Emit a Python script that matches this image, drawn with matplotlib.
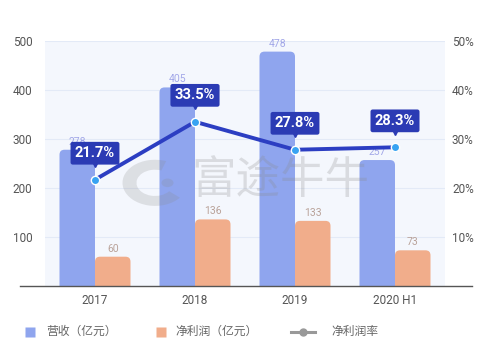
import numpy as np
import matplotlib
matplotlib.use("Agg")
import matplotlib.pyplot as plt
from matplotlib.patches import FancyBboxPatch, Wedge, Circle
from matplotlib.lines import Line2D
from matplotlib.transforms import offset_copy

plt.rcParams['font.family'] = ['Roboto', 'Noto Sans CJK SC', 'DejaVu Sans']

categories = ["2017", "2018", "2019", "2020 H1"]
revenue = [278, 405, 478, 257]
profit = [60, 136, 133, 73]
margin = [21.7, 33.5, 27.8, 28.3]
legend_labels = ["营收（亿元）", "净利润（亿元）", "净利润率"]

BLUE = "#8fa5ee"
ORANGE = "#f1ad8b"
LINE = "#2c3ec2"
DOT = "#38a3f2"
BOX = "#2b3bb4"

fig = plt.figure(figsize=(5.0, 3.55), dpi=100)
ax = fig.add_axes([0.09, 0.194, 0.80, 0.691])
ax.set_facecolor("#f4f7fd")
ax2 = ax.twinx()

x = np.arange(len(categories))
w = 0.355

ax.set_xlim(-0.5, 3.5)
ax.set_ylim(0, 500)
ax2.set_ylim(0, 50)

# px -> data aspect for rounded bar tops
ax_w_px = 0.80 * 500
ax_h_px = 0.691 * 355
aspect = (500 / ax_h_px) / (4.0 / ax_w_px)
r = 0.05


def rounded_bar(xc, h, color):
    p = FancyBboxPatch((xc - w / 2 + r, -30), w - 2 * r, h + 30 - r * aspect,
                       boxstyle=f"round,pad={r},rounding_size={r}",
                       mutation_aspect=aspect, fc=color, ec="none", zorder=2)
    ax.add_patch(p)


for i in range(len(categories)):
    rounded_bar(x[i] - w / 2, revenue[i], BLUE)
    rounded_bar(x[i] + w / 2, profit[i], ORANGE)
    ax.text(x[i] - w / 2, revenue[i] + 6, f"{revenue[i]}", ha="center",
            va="bottom", fontsize=7.5, color="#a3a8e8", zorder=3)
    ax.text(x[i] + w / 2, profit[i] + 6, f"{profit[i]}", ha="center",
            va="bottom", fontsize=7.5, color="#b9a299", zorder=3)

ax.set_yticks([100, 200, 300, 400, 500])
ax.yaxis.grid(True, color="#e3eaf7", lw=0.8)
ax.set_axisbelow(True)
ax.set_xticks(x)
ax.set_xticklabels(categories)
ax.tick_params(axis="both", length=0, labelsize=8.5, colors="#555555")
ax.tick_params(axis="x", pad=6)
ax.tick_params(axis="y", pad=9)
ax2.set_yticks([10, 20, 30, 40, 50])
ax2.set_yticklabels([f"{v}%" for v in [10, 20, 30, 40, 50]])
ax2.tick_params(axis="y", length=0, labelsize=8.5, colors="#555555", pad=5)
for a in (ax, ax2):
    for s in a.spines.values():
        s.set_visible(False)

# baseline that runs past the plot area
ax.axhline(0, xmin=-0.0625, xmax=1.068, color="#555555", lw=1.0,
           clip_on=False, zorder=4)

# watermark
ax.text(1.85, 216, "富途牛牛", ha="center", va="center", fontsize=32,
        color="#8a8a8a", alpha=0.25, zorder=2.5, family=['Noto Sans CJK SC'])
fig.add_artist(Wedge((0.31, 0.485), 0.065, 70, 320, width=0.028,
                     transform=fig.transFigure, fc="#8a8a8a", alpha=0.22,
                     zorder=5))
fig.add_artist(Circle((0.335, 0.485), 0.012, transform=fig.transFigure,
                      fc="#8a8a8a", alpha=0.22, zorder=5))

# margin line
ax2.plot(x, margin, color=LINE, lw=2.8, zorder=5)
ax2.plot(x, margin, "o", ms=6, mfc=DOT, mec="white", mew=1.0, zorder=6)
tri_tr = offset_copy(ax2.transData, fig=fig, x=0, y=11, units="points")
for i in range(len(categories)):
    ax2.plot(x[i], margin[i], marker="v", ms=5, color=BOX, transform=tri_tr,
             zorder=6, clip_on=False)
    ax2.annotate(f"{margin[i]}%", xy=(x[i], margin[i]), xytext=(0, 14),
                 textcoords="offset points", ha="center", va="bottom",
                 fontsize=10.5, fontweight="bold", color="white", zorder=7,
                 bbox=dict(boxstyle="round,pad=0.3,rounding_size=0.15",
                           fc=BOX, ec="none"))

# legend, laid out by hand
ly = 0.066
fig.add_artist(Line2D([0.060], [ly], ls="none", marker="s", ms=7, mfc=BLUE,
                      mec="none", transform=fig.transFigure))
fig.text(0.092, ly, legend_labels[0], va="center", fontsize=8.5,
         color="#666666")
fig.add_artist(Line2D([0.322], [ly], ls="none", marker="s", ms=7, mfc=ORANGE,
                      mec="none", transform=fig.transFigure))
fig.text(0.350, ly, legend_labels[1], va="center", fontsize=8.5,
         color="#666666")
fig.add_artist(Line2D([0.582, 0.630], [ly, ly], color="#999999", lw=2.2,
                      transform=fig.transFigure))
fig.add_artist(Line2D([0.606], [ly], ls="none", marker="o", ms=5,
                      mfc="#999999", mec="#999999",
                      transform=fig.transFigure))
fig.text(0.662, ly, legend_labels[2], va="center", fontsize=8.5,
         color="#666666")

fig.savefig("out.png", dpi=100, facecolor="white")
